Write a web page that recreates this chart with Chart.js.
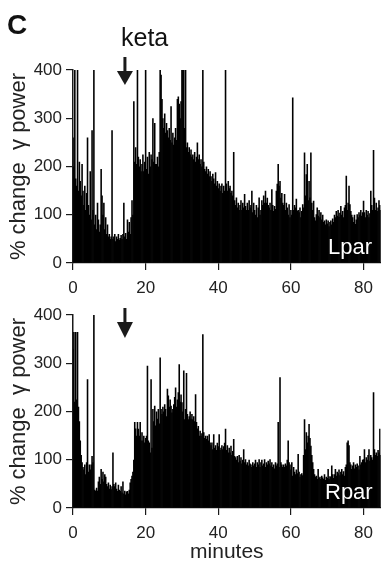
<!DOCTYPE html>
<html lang="en">
<head>
    <meta charset="UTF-8">
    <title>% change gamma power, keta</title>
    <script src="https://cdn.jsdelivr.net/npm/chart.js@4.4.1/dist/chart.umd.min.js"></script>
    <style>
        body { margin: 0; background: #fff; }
        .fig {
            position: relative;
            width: 381px;
            height: 563px;
            overflow: hidden;
            font-family: "Liberation Sans", Arial, sans-serif;
        }
        .fig canvas { position: absolute; left: 0; }
        .lbl { position: absolute; line-height: 1; white-space: nowrap; color: #111; }
        #panelLetter { left: 7px; top: 11px; font-size: 28px; font-weight: bold; }
        #ketaLabel { left: 121px; top: 25px; font-size: 25px; }
        .region { color: #fff; font-size: 22px; }
        #lparLabel { left: 328px; top: 236px; }
        #rparLabel { left: 325px; top: 481px; }
    </style>
</head>
<body>
    <div class="fig">
        <canvas id="lparChart" width="381" height="300" style="top:0"></canvas>
        <canvas id="rparChart" width="381" height="263" style="top:300px"></canvas>
        <div id="panelLetter" class="lbl">C</div>
        <div id="ketaLabel" class="lbl">keta</div>
        <div id="lparLabel" class="lbl region">Lpar</div>
        <div id="rparLabel" class="lbl region">Rpar</div>
    </div>

    <script>
        // one value every 15 s (0.25 min)
        const minutesPerBin = 0.25;
        const xMax = 84.7;
        const ketaTime = 14.3;
        const xTicks = [0, 20, 40, 60, 80];
        const yTicks = [0, 100, 200, 300, 400];

        // left parietal, % change gamma power
        const lparPower = [
            260,200,400,175, 160,400,150,210, 170,140,205,150, 120,160,110,145, 260,120,100,190,
            90,275,110,400, 80,100,70,125, 90,65,80,195, 140,100,125,70, 95,60,80,55,
            60,50,55,275, 50,55,60,45, 55,50,60,48, 52,58,50,60, 125,55,62,50,
            90,65,85,60, 95,130,100,335, 210,240,205,400, 220,200,215,190, 205,225,190,210,
            400,195,220,185, 230,200,225,215, 300,210,290,205, 205,220,200,230, 400,390,340,300,
            280,310,270,290, 275,260,280,255, 325,250,270,245, 260,280,255,340, 345,330,300,335,
            400,400,400,280, 400,240,250,230, 240,225,235,220, 225,215,230,210, 220,250,215,225,
            205,215,200,400, 210,195,190,200, 185,195,180,190, 180,170,185,175, 165,188,160,170,
            155,165,150,160, 165,145,160,150, 400,165,150,170, 155,160,145,150, 140,230,130,120,
            136,115,125,110, 120,130,110,125, 115,143,118,110, 125,110,130,115, 120,150,105,125,
            110,100,120,95, 115,136,100,110, 130,120,140,125, 150,125,135,120, 115,125,110,153,
            120,108,118,112, 150,164,205,160, 170,135,145,125, 120,143,110,125, 115,100,122,95,
            110,100,343,110, 120,115,133,108, 110,105,115,95, 108,122,115,229, 140,184,205,130,
            170,136,229,125, 110,129,95,88, 101,115,98,110, 95,105,90,100, 85,88,80,90,
            82,88,76,85, 88,80,92,85, 100,95,108,98, 110,96,104,118, 100,108,95,115,
            120,181,110,125, 160,122,108,100, 95,85,100,81, 90,101,95,105, 100,110,98,105,
            129,105,95,110, 100,108,95,103, 150,120,110,234, 135,110,125,108, 115,130,120,110
        ];

        // right parietal, % change gamma power
        const rparPower = [
            330,365,220,365, 225,365,210,180, 140,110,95,85, 80,90,70,95, 267,75,90,80,
            90,108,95,400, 38,35,42,36, 55,65,50,81, 60,75,55,70, 65,50,45,53,
            40,48,39,45, 115,50,45,53, 40,35,48,38, 35,45,32,55, 30,36,28,34,
            35,30,38,53, 60,67,75,100, 178,165,150,178, 164,150,178,140, 157,140,150,136,
            145,150,295,140, 136,115,267,125, 205,180,212,171, 200,185,205,175, 312,205,195,210,
            200,215,205,190, 247,233,210,225, 212,198,205,215, 230,250,210,225, 240,298,220,235,
            219,200,285,184, 205,280,195,184, 190,200,185,195, 184,190,180,236, 178,165,170,150,
            160,150,155,360, 157,145,150,143, 150,140,153,136, 130,136,122,153, 125,130,120,135,
            128,153,120,125, 130,122,128,135, 164,120,130,115, 125,115,129,110, 118,143,108,105,
            100,108,95,110, 98,105,92,100, 122,95,101,90, 95,88,100,92, 90,85,95,88,
            92,100,85,95, 90,101,85,95, 100,88,92,101, 85,95,90,98, 92,101,88,95,
            85,90,82,95, 88,92,178,85, 271,95,90,85, 90,85,92,88, 100,140,95,90,
            80,95,67,85, 75,70,80,72, 112,75,65,70, 72,68,110,184, 122,157,136,150,
            174,145,129,110, 95,81,70,65, 67,60,81,62, 65,60,67,63, 60,70,58,65,
            62,81,60,66, 65,88,70,62, 70,81,67,75, 72,80,68,75, 81,70,76,67,
            85,90,136,140, 130,95,90,81, 88,95,82,90, 85,92,88,80, 108,90,95,100,
            101,122,95,105, 100,110,122,98, 110,105,100,240, 122,110,115,108, 120,115,164,110
        ];

        const ink = '#1a1a1a';

        // arrow marking the keta injection
        const ketaArrow = {
            id: 'ketaArrow',
            afterDraw(chart, args, opts) {
                const ctx = chart.ctx;
                const x = chart.scales.x.getPixelForValue(ketaTime);
                ctx.save();
                ctx.fillStyle = ink;
                ctx.fillRect(x - 1.5, opts.top, 3, opts.headTop - opts.top + 1);
                ctx.beginPath();
                ctx.moveTo(x - 8, opts.headTop);
                ctx.lineTo(x + 8, opts.headTop);
                ctx.lineTo(x, opts.tip);
                ctx.closePath();
                ctx.fill();
                ctx.restore();
            }
        };

        function makeChart(id, values, cfg) {
            const points = values.map((v, i) => ({ x: i * minutesPerBin, y: v }));
            return new Chart(document.getElementById(id), {
                type: 'bar',
                data: {
                    datasets: [{
                        data: points,
                        backgroundColor: '#000',
                        borderWidth: 0,
                        barPercentage: 1.75,
                        categoryPercentage: 1
                    }]
                },
                plugins: [ketaArrow],
                options: {
                    responsive: false,
                    animation: false,
                    devicePixelRatio: 1,
                    layout: { padding: { top: cfg.padTop, left: 0, right: 0, bottom: 0 } },
                    plugins: {
                        legend: { display: false },
                        tooltip: { enabled: false },
                        ketaArrow: cfg.arrow
                    },
                    scales: {
                        x: {
                            type: 'linear',
                            offset: false,
                            min: 0,
                            max: xMax,
                            afterFit(s) { s.height = cfg.xHeight; },
                            afterBuildTicks(s) { s.ticks = xTicks.map(v => ({ value: v })); },
                            ticks: { font: { size: 17 }, color: '#222', padding: 8, maxRotation: 0 },
                            grid: { offset: false, drawOnChartArea: false, drawTicks: true, tickLength: 7, color: ink, lineWidth: 1.2 },
                            border: { display: true, color: ink, width: 1.2 },
                            title: {
                                display: cfg.xTitle,
                                text: 'minutes',
                                font: { size: 21, lineHeight: 1 },
                                color: '#222',
                                padding: { top: 0, bottom: 0 }
                            }
                        },
                        y: {
                            min: 0,
                            max: 400,
                            afterFit(s) { s.width = 73; },
                            afterBuildTicks(s) { s.ticks = yTicks.map(v => ({ value: v })); },
                            ticks: { font: { size: 17 }, color: '#222', padding: 4 },
                            grid: { drawOnChartArea: false, drawTicks: true, tickLength: 7, color: ink, lineWidth: 1.2 },
                            border: { display: true, color: ink, width: 1.5 },
                            title: {
                                display: true,
                                text: '% change  \u03b3 power',
                                font: { size: 22 },
                                color: '#222',
                                padding: { top: 6, bottom: 0 }
                            }
                        }
                    }
                }
            });
        }

        makeChart('lparChart', lparPower, {
            padTop: 70, xHeight: 37, xTitle: false,
            arrow: { top: 57, headTop: 71, tip: 85 }
        });
        makeChart('rparChart', rparPower, {
            padTop: 15, xHeight: 55, xTitle: true,
            arrow: { top: 8, headTop: 22, tip: 38 }
        });
    </script>
</body>
</html>
